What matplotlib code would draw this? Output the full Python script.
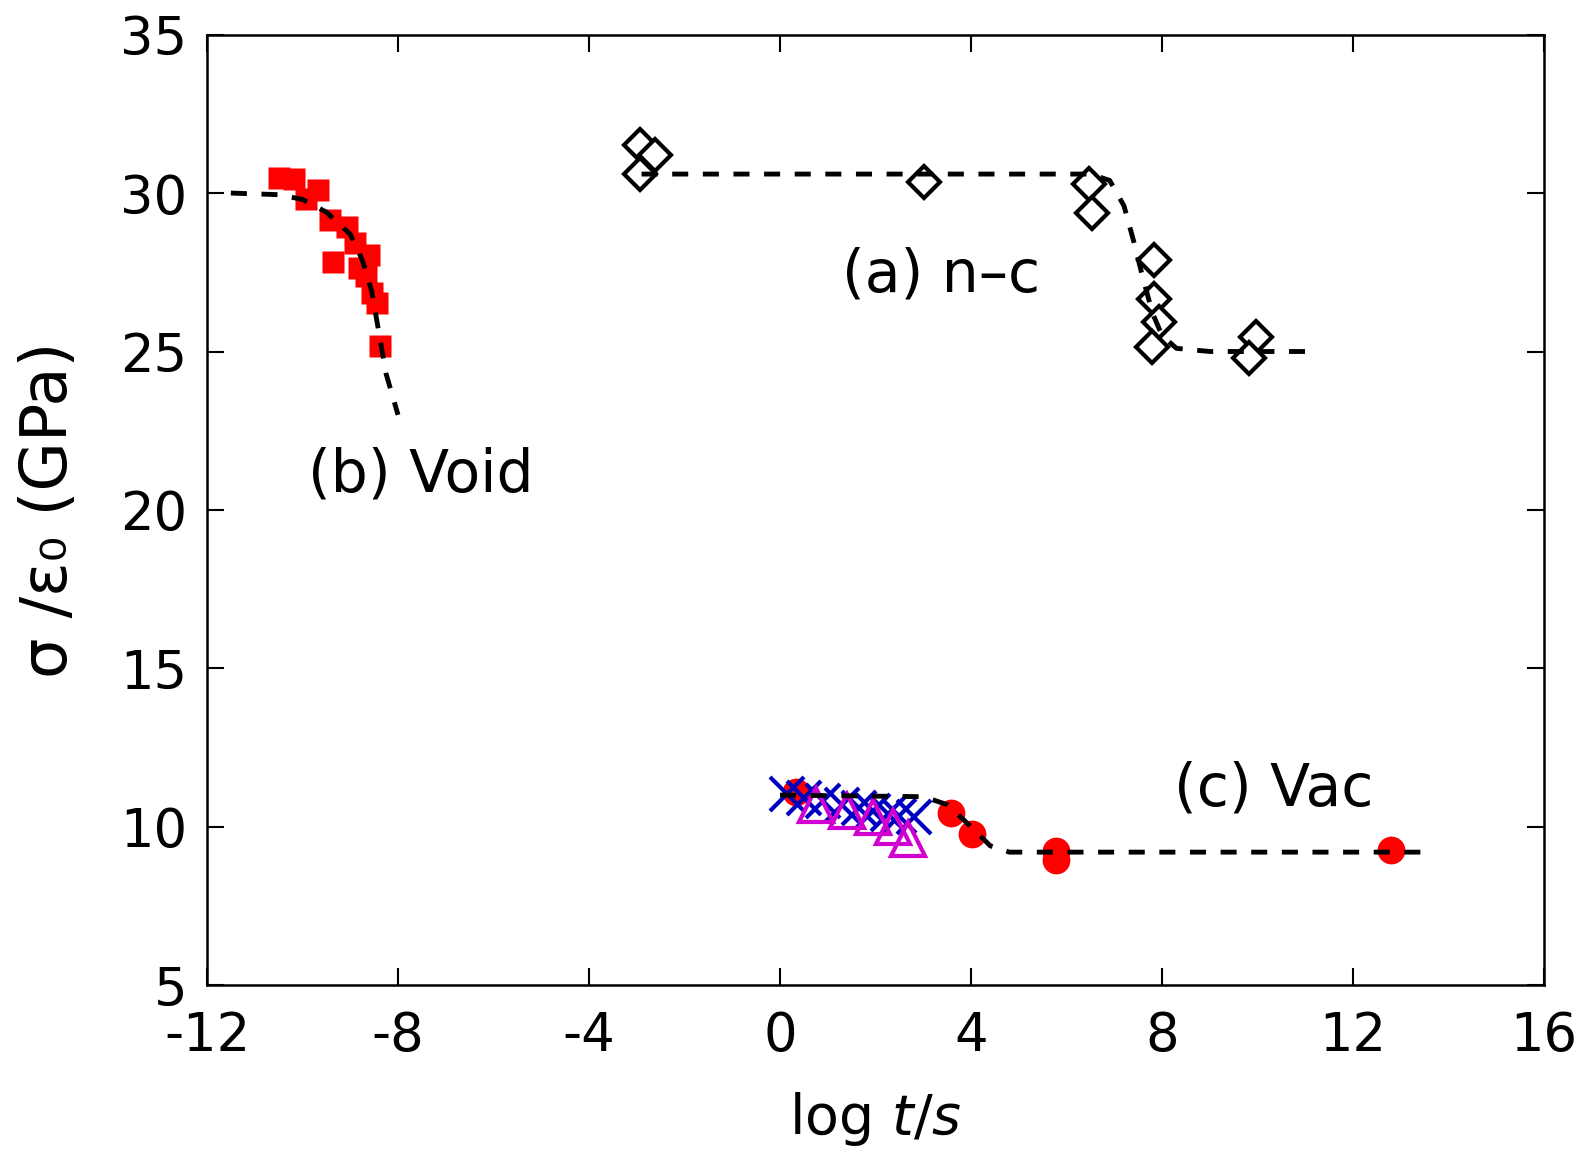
import matplotlib
matplotlib.use("Agg")
import matplotlib.pyplot as plt

plt.rcParams['font.family'] = ['DejaVu Sans']
plt.rcParams['mathtext.fontset'] = 'dejavusans'
plt.rcParams['axes.unicode_minus'] = False

# (b) void - red squares
void_x = [-10.50, -10.18, -9.67, -9.92, -9.42, -9.07, -8.89, -9.37, -8.61, -8.82, -8.68, -8.54, -8.44, -8.38]
void_y = [30.48, 30.44, 30.11, 29.81, 29.16, 28.94, 28.43, 27.83, 28.05, 27.64, 27.37, 26.85, 26.54, 25.16]
void_fit_x = [-11.5, -10.5, -10.0, -9.5, -9.0, -8.75, -8.55, -8.4, -8.25, -8.0]
void_fit_y = [30.0, 29.95, 29.8, 29.4, 28.7, 27.9, 26.9, 25.6, 24.3, 23.0]

# (a) n-c - open diamonds
nc_x = [-2.93, -2.62, -2.93, 3.01, 6.46, 6.54, 7.82, 7.82, 7.93, 7.79, 9.96, 9.82]
nc_y = [31.51, 31.20, 30.60, 30.35, 30.30, 29.36, 27.88, 26.67, 25.94, 25.14, 25.46, 24.78]
nc_fit_x = [-2.9, 6.5, 6.9, 7.2, 7.4, 7.6, 7.8, 8.0, 8.3, 9.0, 11.0]
nc_fit_y = [30.6, 30.6, 30.4, 29.6, 28.5, 27.3, 26.2, 25.5, 25.1, 25.0, 25.0]

# (c) vac - red circles, blue crosses, magenta triangles
vac_x = [0.34, 3.57, 4.02, 5.77, 5.77, 12.79]
vac_y = [11.09, 10.45, 9.78, 9.23, 8.95, 9.26]
cross_x = [0.15, 0.5, 0.9, 1.3, 1.65, 1.95, 2.25, 2.5, 2.8]
cross_y = [11.05, 10.9, 10.8, 10.7, 10.6, 10.5, 10.4, 10.35, 10.3]
tri_x = [0.75, 1.4, 1.94, 2.36, 2.68]
tri_y = [10.7, 10.5, 10.3, 10.0, 9.6]
vac_fit_x = [0.0, 3.0, 3.5, 4.0, 4.4, 4.8, 13.7]
vac_fit_y = [11.0, 10.95, 10.7, 10.0, 9.4, 9.2, 9.2]

fig = plt.figure(figsize=(15.92, 11.55), dpi=100)
ax = fig.add_axes([0.130, 0.147, 0.840, 0.823])

dash = (0, (3.3, 3.0))
ax.plot(void_x, void_y, 's', color='red', ms=16, mec='none', zorder=2)
ax.plot(void_fit_x, void_fit_y, color='black', lw=3.5, ls=dash, zorder=3)

ax.plot(nc_x, nc_y, 'D', mfc='white', mec='black', mew=3, ms=16, zorder=2)
ax.plot(nc_fit_x, nc_fit_y, color='black', lw=3.5, ls=dash, zorder=3)

ax.plot(vac_x, vac_y, 'o', color='red', ms=20, mec='none', zorder=2)
ax.plot(cross_x, cross_y, 'x', color='#0000c0', ms=24, mew=3, zorder=2)
ax.plot(tri_x, tri_y, '^', mfc='none', mec='#d000d0', ms=24, mew=3, zorder=2)
ax.plot(vac_fit_x, vac_fit_y, color='black', lw=3.5, ls=dash, zorder=3)

ax.text(3.38, 27.4, '(a) n\u2013c', fontsize=42, ha='center', va='center')
ax.text(-7.53, 21.1, '(b) Void', fontsize=42, ha='center', va='center')
ax.text(10.34, 11.2, '(c) Vac', fontsize=42, ha='center', va='center')

ax.set_xlim(-12, 16)
ax.set_ylim(5, 35)
ax.set_xticks(range(-12, 17, 4))
ax.set_yticks(range(5, 36, 5))
ax.tick_params(direction='in', top=True, right=True, length=12, width=1.5,
               labelsize=38)
ax.tick_params(axis='x', pad=18)
ax.tick_params(axis='y', pad=14)
for s in ax.spines.values():
    s.set_linewidth(1.8)

ax.set_xlabel(r'log $\mathit{t/s}$', fontsize=40)
ax.set_ylabel('\u03c3 /\u03b5\u2080 (GPa)', fontsize=46)
ax.xaxis.set_label_coords(0.5, -0.11)
ax.yaxis.set_label_coords(-0.095, 0.5)

fig.savefig('out.png', dpi=100)
